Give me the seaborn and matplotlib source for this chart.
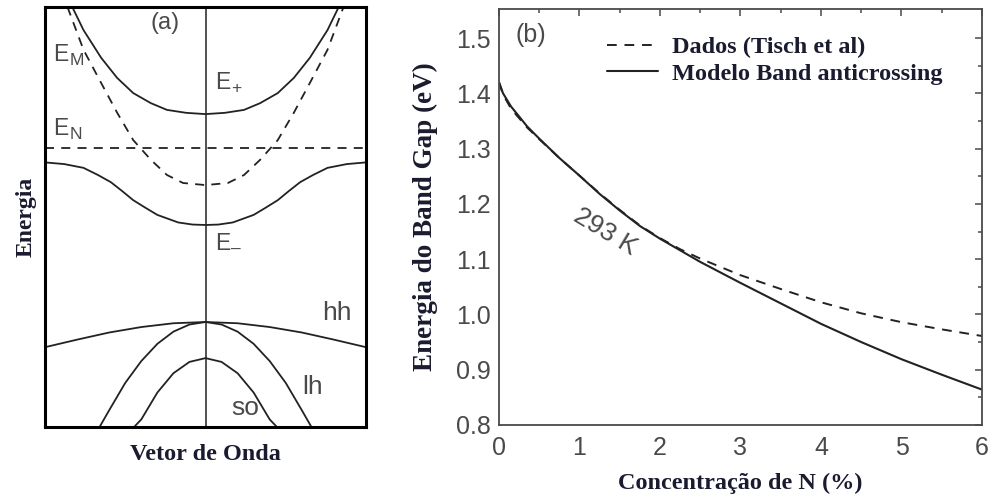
import numpy as np
import pandas as pd
import matplotlib
matplotlib.use("Agg")
import matplotlib.pyplot as plt
import seaborn as sns

# ---------------- data: panel (a) schematic bands (k in [-1,1], E in [0,1]) ----------
ep_k = [-0.83, -0.76, -0.65, -0.55, -0.45, -0.34, -0.24, -0.12, 0.0,
        0.12, 0.24, 0.34, 0.45, 0.55, 0.65, 0.76, 0.83]
ep_E = [1.0, 0.945, 0.879, 0.831, 0.795, 0.771, 0.755, 0.748, 0.745,
        0.748, 0.755, 0.771, 0.795, 0.831, 0.879, 0.945, 1.0]

em_k = [-1.0, -0.88, -0.76, -0.67, -0.59, -0.52, -0.45, -0.37, -0.30, -0.17, -0.08, 0.0,
        0.08, 0.17, 0.30, 0.37, 0.45, 0.52, 0.59, 0.67, 0.76, 0.88, 1.0]
em_E = [0.630, 0.626, 0.617, 0.600, 0.583, 0.562, 0.540, 0.521, 0.505, 0.487, 0.482, 0.481,
        0.482, 0.487, 0.505, 0.521, 0.540, 0.562, 0.583, 0.600, 0.617, 0.626, 0.630]

eM_k = [-0.86, -0.76, -0.65, -0.55, -0.45, -0.34, -0.24, -0.14, 0.0,
        0.14, 0.24, 0.34, 0.45, 0.55, 0.65, 0.76, 0.86]
eM_E = [1.0, 0.898, 0.819, 0.748, 0.683, 0.636, 0.600, 0.581, 0.576,
        0.581, 0.600, 0.636, 0.683, 0.748, 0.819, 0.898, 1.0]

eN_k = [-1.0, 1.0]
eN_E = [0.664, 0.664]

hh_k = [-1.0, -0.8, -0.6, -0.4, -0.2, 0.0, 0.2, 0.4, 0.6, 0.8, 1.0]
hh_E = [0.190, 0.208, 0.225, 0.238, 0.247, 0.250, 0.247, 0.238, 0.225, 0.208, 0.190]

lh_k = [-0.66, -0.6, -0.5, -0.4, -0.3, -0.2, -0.1, 0.0, 0.1, 0.2, 0.3, 0.4, 0.5, 0.6, 0.66]
lh_E = [0.0, 0.040, 0.105, 0.157, 0.198, 0.227, 0.244, 0.250, 0.244, 0.227, 0.198, 0.157, 0.105, 0.040, 0.0]

so_k = [-0.445, -0.4, -0.3, -0.2, -0.1, 0.0, 0.1, 0.2, 0.3, 0.4, 0.445]
so_E = [0.0, 0.018, 0.082, 0.128, 0.155, 0.164, 0.155, 0.128, 0.082, 0.018, 0.0]

# ---------------- data: panel (b) band gap vs N concentration --------------------------
bac_x = [0.0, 0.05, 0.15, 0.35, 0.5, 0.75, 1.0, 1.25, 1.5, 1.75, 2.0, 2.5, 3.0,
         3.5, 4.0, 4.5, 5.0, 5.5, 6.0]
bac_y = [1.420, 1.400, 1.376, 1.340, 1.318, 1.283, 1.251, 1.218, 1.188, 1.160, 1.137,
         1.095, 1.057, 1.020, 0.983, 0.950, 0.919, 0.891, 0.864]

dat_x = [0.0, 0.05, 0.15, 0.35, 0.5, 0.75, 1.0, 1.25, 1.5, 1.75, 2.0, 2.25, 2.5, 3.0,
         3.5, 4.0, 4.5, 5.0, 5.5, 6.0]
dat_y = [1.420, 1.398, 1.372, 1.338, 1.317, 1.283, 1.251, 1.219, 1.189, 1.161, 1.138,
         1.118, 1.101, 1.071, 1.046, 1.022, 1.002, 0.986, 0.973, 0.961]

x_ticks = [0, 1, 2, 3, 4, 5, 6]
y_ticks = [0.8, 0.9, 1.0, 1.1, 1.2, 1.3, 1.4, 1.5]

# ---------------- style -------------------------------------------------------------
sns.set_theme(style="white")
plt.rcParams['font.family'] = ['Liberation Sans', 'DejaVu Sans']

SERIF = ['Liberation Serif', 'DejaVu Serif']
LABEL_FONT = dict(family=SERIF, weight='bold', color='#1b1b30')
GRAY = '#4a4a4a'
LINE = '#222222'

fig = plt.figure(figsize=(9.93, 5.01), dpi=100)
axa = fig.add_axes([45 / 993, 74 / 501, 321 / 993, 420 / 501])
axb = fig.add_axes([499 / 993, 76 / 501, 483 / 993, 416 / 501])

# ---------------- panel (a) ----------------------------------------------------------
def band(ax, k, E, dashed=False):
    df = pd.DataFrame({'k': k, 'E': E})
    sns.lineplot(data=df, x='k', y='E', ax=ax, color=LINE, lw=1.3, sort=False,
                 estimator=None, linestyle=(0, (5, 4)) if dashed else '-')

band(axa, ep_k, ep_E)
band(axa, em_k, em_E)
band(axa, eM_k, eM_E, dashed=True)
band(axa, eN_k, eN_E, dashed=True)
band(axa, hh_k, hh_E)
band(axa, lh_k, lh_E)
band(axa, so_k, so_E)
axa.axvline(0, color=LINE, lw=1.1)

axa.set_xlim(-1, 1)
axa.set_ylim(0, 1)
axa.set_xticks([])
axa.set_yticks([])
for s in axa.spines.values():
    s.set_visible(True)
    s.set_color('black')
    s.set_linewidth(2.2)
axa.set_xlabel('Vetor de Onda', fontsize=17.5, labelpad=12, **LABEL_FONT)
axa.set_ylabel('Energia', fontsize=17, labelpad=6, **LABEL_FONT)


def e_label(ax, x, y, sub):
    ax.text(x, y, 'E', ha='left', va='center', color=GRAY, fontsize=16.5)
    ax.annotate(sub, xy=(x, y), xytext=(11.5, -4), textcoords='offset points',
                ha='left', va='center', color=GRAY, fontsize=12.5)


axa.text(-0.25, 0.962, '(a)', ha='center', va='center', color=GRAY, fontsize=17)
e_label(axa, -0.947, 0.886, 'M')
e_label(axa, 0.062, 0.820, '+')
e_label(axa, -0.947, 0.710, 'N')
e_label(axa, 0.062, 0.436, '\u2013')
axa.text(0.82, 0.271, 'hh', ha='center', va='center', color=GRAY, fontsize=19)
axa.text(0.67, 0.095, 'lh', ha='center', va='center', color=GRAY, fontsize=19)
axa.text(0.25, 0.045, 'so', ha='center', va='center', color=GRAY, fontsize=19)

# ---------------- panel (b) ----------------------------------------------------------
dfd = pd.DataFrame({'x': dat_x, 'y': dat_y})
dfm = pd.DataFrame({'x': bac_x, 'y': bac_y})
sns.lineplot(data=dfd, x='x', y='y', ax=axb, color=LINE, lw=1.4, estimator=None,
             linestyle=(0, (5, 4)), label='Dados (Tisch et al)')
sns.lineplot(data=dfm, x='x', y='y', ax=axb, color=LINE, lw=1.5, estimator=None,
             label='Modelo Band anticrossing')

axb.set_xlim(0, 6)
axb.set_ylim(0.8, 1.5525)
axb.set_xticks(x_ticks)
axb.set_xticklabels([str(v) for v in x_ticks])
axb.set_yticks(y_ticks)
axb.set_yticklabels([f'{v:.1f}' for v in y_ticks])
axb.set_xticks(np.arange(0.5, 6, 1.0), minor=True)
axb.set_yticks(np.arange(0.85, 1.55, 0.1), minor=True)
axb.tick_params(which='both', direction='in', top=True, right=True, color=GRAY,
                width=1.1, labelcolor=GRAY, labelsize=18)
axb.tick_params(which='major', length=5)
axb.tick_params(which='minor', length=3)
axb.tick_params(axis='x', which='major', pad=8)
axb.tick_params(axis='y', which='major', pad=6)
for s in axb.spines.values():
    s.set_visible(True)
    s.set_color(GRAY)
    s.set_linewidth(1.3)

axb.set_xlabel('Concentração de N (%)', fontsize=17.5, labelpad=9, **LABEL_FONT)
axb.set_ylabel('Energia do Band Gap (eV)', fontsize=19.5, labelpad=13, **LABEL_FONT)

axb.text(0.40, 1.505, '(b)', ha='center', va='center', color=GRAY, fontsize=18)
axb.text(1.32, 1.149, '293 K', ha='center', va='center', rotation=-31, color=GRAY,
         fontsize=19)

leg = axb.legend(loc='upper left', bbox_to_anchor=(0.224, 0.935), frameon=False,
                 borderpad=0, borderaxespad=0, handlelength=2.1, handletextpad=0.55,
                 labelspacing=0.2, prop=dict(family=SERIF, weight='bold', size=17.5))
for t in leg.get_texts():
    t.set_color('#1b1b30')

fig.savefig('out.png', dpi=100)
